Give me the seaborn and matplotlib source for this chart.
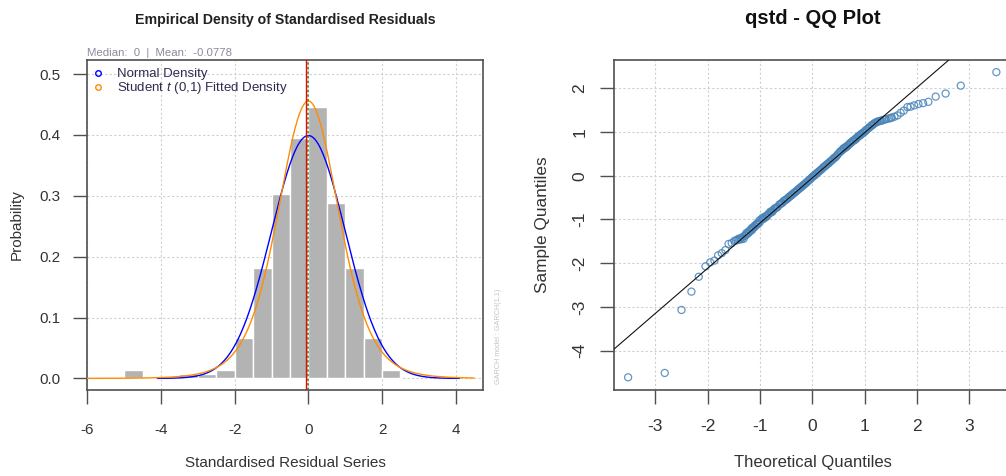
import math
import numpy as np
import pandas as pd
import matplotlib
matplotlib.use("Agg")
import matplotlib.pyplot as plt
import seaborn as sns
from matplotlib.lines import Line2D

# ---------------- data ----------------
# histogram of standardised residuals (bin width 0.5), density scale
bin_edges = [-5.0, -4.5, -4.0, -3.5, -3.0, -2.5, -2.0, -1.5, -1.0, -0.5,
             0.0, 0.5, 1.0, 1.5, 2.0, 2.5]
bin_density = [0.0142, 0.0, 0.0, 0.0071, 0.0071, 0.0142, 0.0658, 0.181,
               0.3036, 0.3956, 0.4466, 0.2888, 0.181, 0.0658, 0.0142]

resid_mean = -0.0778
resid_median = 0.0

# fitted densities (parameters)
normal_mu, normal_sd = 0.0, 1.0
t_mu, t_sd, t_nu = 0.0, 1.0, 7.0
normal_span = (-4.1, 4.1)
t_span = (-6.0, 4.5)

x_ticks_left = [-6, -4, -2, 0, 2, 4]
y_ticks_left = [0.0, 0.1, 0.2, 0.3, 0.4, 0.5]
x_ticks_right = [-3, -2, -1, 0, 1, 2, 3]
y_ticks_right = [-4, -3, -2, -1, 0, 1, 2]

# QQ plot: theoretical vs sample quantiles
qq_low_x = [-3.52, -2.82, -2.50, -2.31, -2.17, -2.04, -1.95, -1.87, -1.80,
            -1.73, -1.66, -1.60, -1.54, -1.49, -1.46]
qq_low_y = [-4.61, -4.51, -3.07, -2.65, -2.31, -2.07, -1.98, -1.94, -1.82,
            -1.77, -1.70, -1.56, -1.54, -1.49, -1.48]

qq_mid_x = [-1.43, -1.39, -1.35, -1.31, -1.27, -1.24, -1.21, -1.18, -1.15,
            -1.12, -1.09, -1.06, -1.03, -1.00,
            -0.97, -0.94, -0.92, -0.89, -0.87, -0.84, -0.82, -0.79, -0.77,
            -0.75, -0.72, -0.70, -0.68, -0.66, -0.63, -0.61, -0.59, -0.57,
            -0.55, -0.53,
            -0.51, -0.49, -0.47, -0.45, -0.43, -0.41, -0.39, -0.37, -0.35,
            -0.33, -0.31, -0.29, -0.27, -0.25, -0.23, -0.21, -0.19, -0.17,
            -0.15, -0.13, -0.11, -0.09, -0.07, -0.05, -0.03,
            -0.01, 0.01, 0.03, 0.05, 0.07, 0.09, 0.11, 0.13, 0.15, 0.17,
            0.19, 0.21, 0.23, 0.25, 0.27, 0.29, 0.31, 0.33, 0.35, 0.37,
            0.39, 0.41, 0.43, 0.45, 0.47,
            0.49, 0.52, 0.54, 0.56, 0.58, 0.61, 0.63, 0.65, 0.68, 0.70,
            0.72, 0.75, 0.77, 0.80, 0.82, 0.85, 0.87, 0.90, 0.92, 0.95,
            0.98, 1.01, 1.04, 1.07, 1.10, 1.13, 1.16, 1.19]
qq_mid_y = [-1.47, -1.46, -1.45, -1.44, -1.36, -1.33, -1.30, -1.26, -1.24,
            -1.19, -1.16, -1.12, -1.10, -1.06,
            -1.00, -0.99, -0.97, -0.95, -0.93, -0.88, -0.86, -0.84, -0.83,
            -0.80, -0.75, -0.74, -0.73, -0.71, -0.66, -0.65, -0.63, -0.62,
            -0.58, -0.57,
            -0.55, -0.54, -0.52, -0.49, -0.48, -0.45, -0.44, -0.42, -0.39,
            -0.38, -0.36, -0.33, -0.32, -0.29, -0.28, -0.25, -0.24, -0.21,
            -0.20, -0.17, -0.16, -0.13, -0.11, -0.09, -0.07,
            -0.04, -0.02, 0.00, 0.01, 0.04, 0.06, 0.08, 0.10, 0.12, 0.14,
            0.16, 0.19, 0.21, 0.22, 0.25, 0.27, 0.28, 0.31, 0.33, 0.35,
            0.37, 0.40, 0.41, 0.43, 0.46,
            0.49, 0.53, 0.56, 0.57, 0.60, 0.62, 0.64, 0.67, 0.69, 0.71,
            0.74, 0.76, 0.79, 0.81, 0.84, 0.86, 0.89, 0.91, 0.93, 0.96,
            0.99, 1.01, 1.05, 1.08, 1.11, 1.14, 1.17, 1.20]

# extra points where the band is thick
qq_band_x = [-1.41, -1.37, -1.33, -1.29, -1.26, -1.22, -1.19, -1.16, -1.13,
             -1.10, -1.07, -1.04, -1.01, -0.95, -0.90, -0.85, -0.80, -0.74,
             0.60, 0.66, 0.73, 0.78, 0.83, 0.88, 0.93, 0.97, 1.02, 1.08,
             1.14, 1.18, 1.24, 1.31, 1.40, 1.50]
qq_band_y = [-1.44, -1.43, -1.40, -1.37, -1.31, -1.28, -1.25, -1.20, -1.18,
             -1.14, -1.11, -1.08, -1.02, -0.96, -0.93, -0.90, -0.82, -0.78,
             0.63, 0.66, 0.75, 0.80, 0.83, 0.90, 0.95, 0.98, 1.04, 1.10,
             1.16, 1.19, 1.23, 1.26, 1.29, 1.32]

qq_high_x = [1.22, 1.25, 1.29, 1.33, 1.37, 1.42, 1.47, 1.52, 1.57, 1.63,
             1.69, 1.75, 1.82, 1.88, 1.95, 2.03, 2.12, 2.22, 2.36, 2.55,
             2.84, 3.52]
qq_high_y = [1.22, 1.24, 1.25, 1.26, 1.28, 1.30, 1.31, 1.33, 1.35, 1.38,
             1.44, 1.49, 1.57, 1.58, 1.61, 1.64, 1.66, 1.69, 1.81, 1.88,
             2.06, 2.37]

qq_line_intercept = -0.05
qq_line_slope = 1.033

# ---------------- style ----------------
sns.set_theme(style="white")
plt.rcParams["font.family"] = ["Liberation Sans", "DejaVu Sans"]
plt.rcParams["mathtext.fontset"] = "custom"
plt.rcParams["mathtext.it"] = "Liberation Sans:italic"
plt.rcParams["mathtext.rm"] = "Liberation Sans"

TXT = "#333333"
SPINE = "#505050"
GRID = "#cfcfcf"

W, H = 1006, 476
fig = plt.figure(figsize=(W / 100, H / 100), dpi=100)
fig.patch.set_facecolor("white")

def fx(px):
    return px / W

def fy(py):
    return 1 - py / H

ax1 = fig.add_axes([fx(87), fy(390), fx(483) - fx(87), (390 - 60) / H])
ax2 = fig.add_axes([fx(614), fy(390), fx(1011) - fx(614), (390 - 60) / H])

# ---------------- left panel ----------------
centers = [(a + b) / 2 for a, b in zip(bin_edges[:-1], bin_edges[1:])]
hist_df = pd.DataFrame({"x": centers, "w": bin_density})
hist_df = hist_df[hist_df["w"] > 0]
sns.histplot(data=hist_df, x="x", weights="w", bins=bin_edges, stat="count",
             color="#b3b3b3", edgecolor="white", linewidth=1.0, alpha=1.0,
             ax=ax1, zorder=2)

def t_pdf(x, mu, sd, nu):
    z = (x - mu) / sd
    c = math.gamma((nu + 1) / 2) / (math.gamma(nu / 2) * math.sqrt(math.pi * (nu - 2)))
    return c * (1 + z ** 2 / (nu - 2)) ** (-(nu + 1) / 2) / sd

def n_pdf(x, mu, sd):
    z = (x - mu) / sd
    return np.exp(-0.5 * z ** 2) / (sd * math.sqrt(2 * math.pi))

xn = np.linspace(normal_span[0], normal_span[1], 400)
xt = np.linspace(t_span[0], t_span[1], 500)
sns.lineplot(x=xn, y=n_pdf(xn, normal_mu, normal_sd), ax=ax1, color="#0000ff",
             lw=1.0, zorder=4, sort=False)
sns.lineplot(x=xt, y=t_pdf(xt, t_mu, t_sd, t_nu), ax=ax1, color="#ff8c00",
             lw=1.0, zorder=5, sort=False)

ax1.axvline(resid_mean, color="#ff0000", lw=1.0, zorder=6)
ax1.axvline(resid_median, color="#228b22", lw=1.1, ls=(0, (1.5, 1.5)), zorder=6)

ax1.set_xlim(-6.01, 4.74)
ax1.set_ylim(-0.019, 0.523)
ax1.set_xticks(x_ticks_left)
ax1.set_xticklabels([f"{v:d}" for v in x_ticks_left])
ax1.set_yticks(y_ticks_left)
ax1.set_yticklabels([f"{v:.1f}" for v in y_ticks_left])
ax1.set_xlabel("")
ax1.set_ylabel("")
ax1.grid(True, color=GRID, ls=(0, (2, 2)), lw=0.8, zorder=0)
ax1.set_axisbelow(True)
ax1.tick_params(axis="x", direction="out", length=10, width=1.0, color=SPINE,
                labelsize=11, labelcolor=TXT, pad=14, bottom=True)
ax1.tick_params(axis="y", direction="out", length=10, width=1.0, color=SPINE,
                labelsize=11, labelcolor=TXT, pad=9, left=True)
for s in ax1.spines.values():
    s.set_color(SPINE)
    s.set_linewidth(1.2)

handles = [Line2D([], [], marker="o", ls="none", mfc="none", mec="#0000ff", ms=4, mew=1.0),
           Line2D([], [], marker="o", ls="none", mfc="none", mec="#ff8c00", ms=4, mew=1.0)]
leg = ax1.legend(handles, ["Normal Density", r"Student $t$ (0,1) Fitted Density"],
                 loc="upper left", bbox_to_anchor=(0.0, 0.99), frameon=False,
                 fontsize=9.5, handlelength=1.0, handletextpad=0.9,
                 labelspacing=0.0, borderaxespad=0.2, borderpad=0.15,
                 labelcolor="#2e2b50")
leg.set_zorder(10)

fig.text(fx(285), fy(20), "Empirical Density of Standardised Residuals",
         ha="center", va="center", fontsize=10.2, fontweight="bold", color="#222222")
fig.text(fx(87), fy(53), "Median:  0  |  Mean:  -0.0778", ha="left", va="center",
         fontsize=8.2, color="#8a8a9a")
fig.text(fx(17), fy(225), "Probability", rotation=90, ha="center", va="center",
         fontsize=11, color=TXT)
fig.text(fx(285), fy(463), "Standardised Residual Series", ha="center",
         va="center", fontsize=11, color=TXT)
fig.text(fx(498), fy(336), "GARCH model : GARCH(1,1)", rotation=90, ha="center",
         va="center", fontsize=5.2, color="#c4c4c4")

# ---------------- right panel ----------------
qq_x = qq_low_x + qq_mid_x + qq_band_x + qq_high_x
qq_y = qq_low_y + qq_mid_y + qq_band_y + qq_high_y
sns.scatterplot(x=qq_x, y=qq_y, ax=ax2, marker="o", s=26, facecolor="none",
                edgecolor="#4a84b8", linewidth=0.9, alpha=0.85, zorder=3)
ax2.axline((0, qq_line_intercept), slope=qq_line_slope, color="#111111",
           lw=0.8, zorder=4)

ax2.set_xlim(-3.79, 3.80)
ax2.set_ylim(-4.90, 2.647)
ax2.set_xticks(x_ticks_right)
ax2.set_xticklabels([f"{v:d}" for v in x_ticks_right])
ax2.set_yticks(y_ticks_right)
ax2.set_yticklabels([f"{v:d}" for v in y_ticks_right], rotation=90, va="center")
ax2.set_xlabel("")
ax2.set_ylabel("")
ax2.grid(True, color=GRID, ls=(0, (2, 2)), lw=0.8, zorder=0)
ax2.set_axisbelow(True)
ax2.tick_params(axis="x", direction="out", length=10, width=1.0, color=SPINE,
                labelsize=12.5, labelcolor=TXT, pad=11, bottom=True)
ax2.tick_params(axis="y", direction="out", length=10, width=1.0, color=SPINE,
                labelsize=12.5, labelcolor=TXT, pad=9, left=True)
for s in ax2.spines.values():
    s.set_color(SPINE)
    s.set_linewidth(1.2)

fig.text(fx(813), fy(19), "qstd - QQ Plot", ha="center", va="center",
         fontsize=14.5, fontweight="bold", color="#111111")
fig.text(fx(543), fy(225), "Sample Quantiles", rotation=90, ha="center",
         va="center", fontsize=12.4, color=TXT)
fig.text(fx(813), fy(463), "Theoretical Quantiles", ha="center", va="center",
         fontsize=12, color=TXT)

fig.savefig("out.png", dpi=100, facecolor="white")
